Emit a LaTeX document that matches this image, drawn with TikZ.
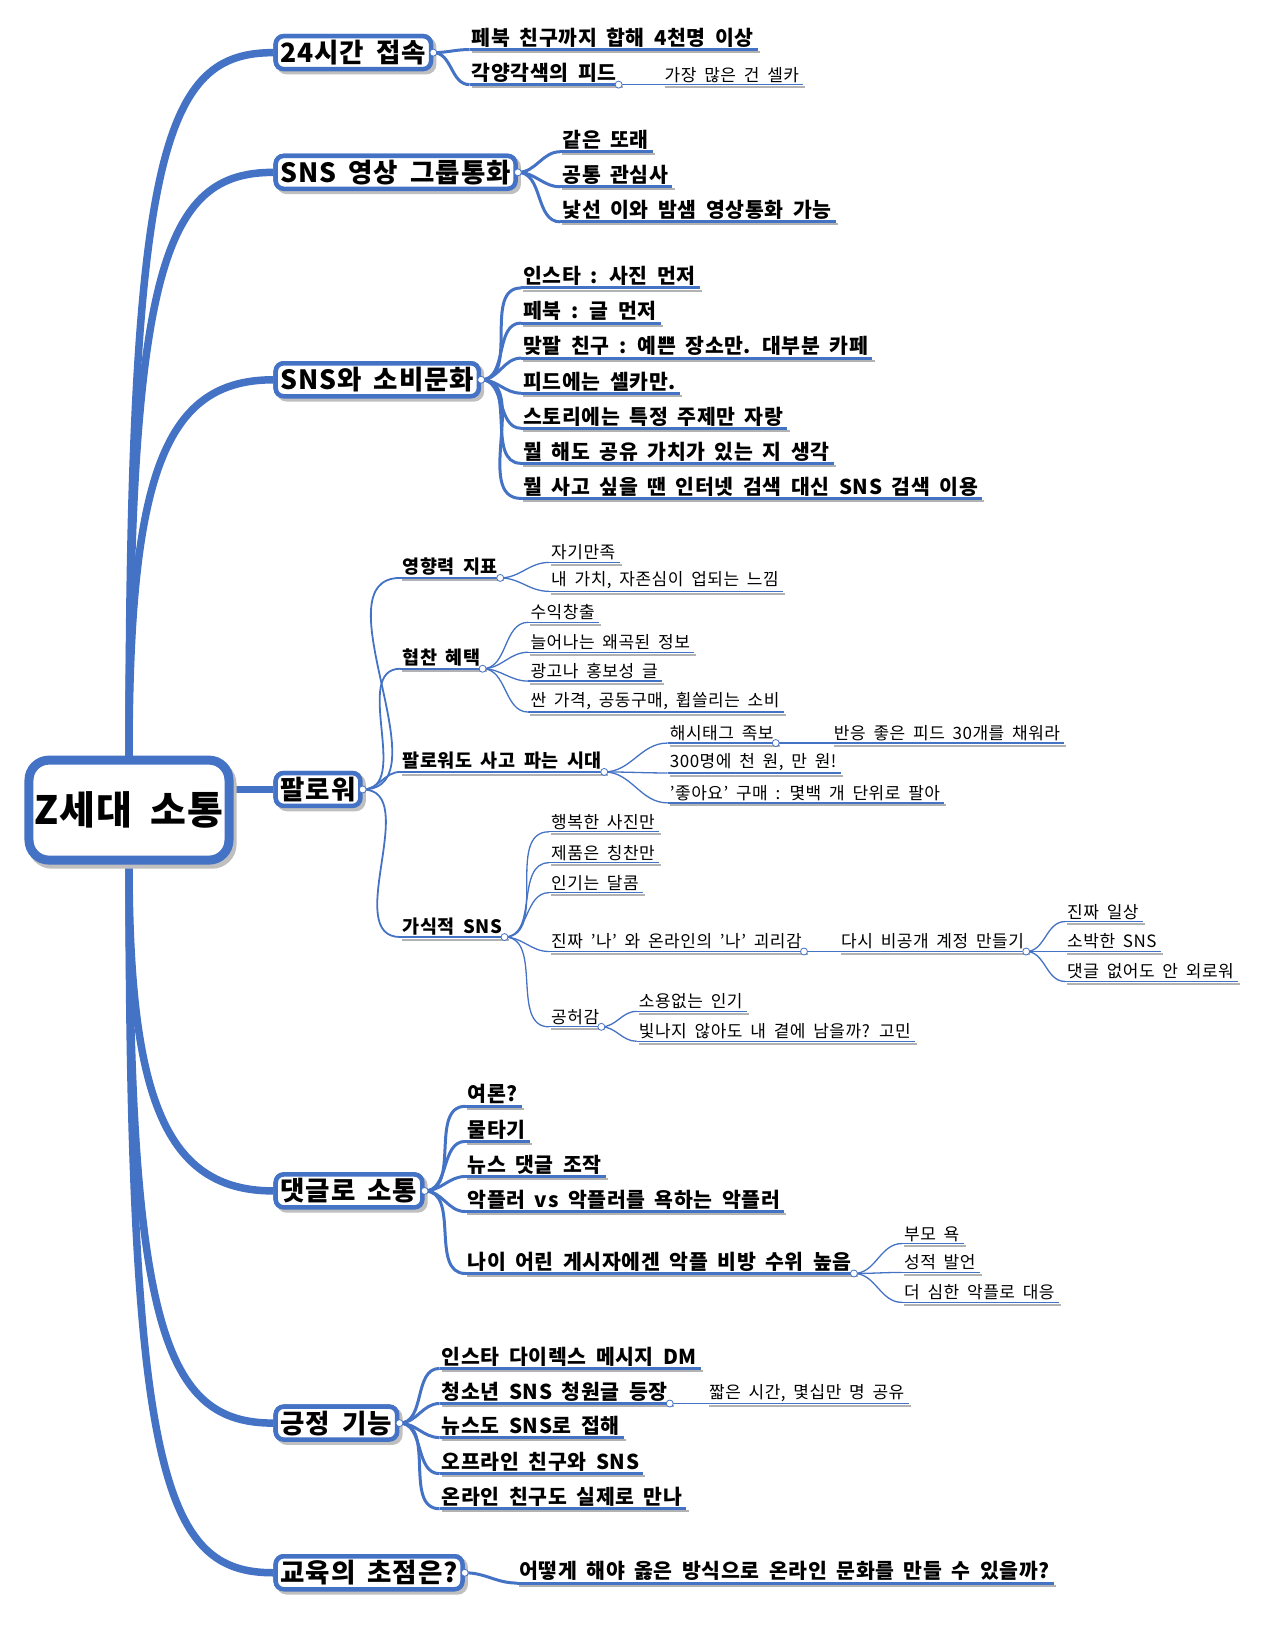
\documentclass[tikz,border=0pt]{standalone}
\usepackage{fontspec}
\setmainfont{Noto Sans CJK KR}[LetterSpace=3,WordSpace=1.8]
\definecolor{mb}{RGB}{68,114,196}
\tikzset{
 bx/.style={draw=mb,line width=4.5pt,rounded corners=8pt,fill=white,font=\bfseries\fontsize{26.5}{30}\selectfont,inner xsep=5pt,inner ysep=4pt,anchor=west},
 trunk/.style={draw=mb,line width=7.5pt},
 A/.style={font=\bfseries\fontsize{20.5}{23}\selectfont,inner xsep=2pt,inner ysep=2pt},
 Ac/.style={draw=mb,line width=3pt},
 B/.style={font=\bfseries\fontsize{18.5}{21}\selectfont,inner xsep=2pt,inner ysep=2pt},
 Bc/.style={draw=mb,line width=1.8pt},
 C/.style={font=\fontsize{17}{19}\selectfont,inner xsep=2pt,inner ysep=2pt},
 Cc/.style={draw=mb,line width=1.3pt},
 sh/.style={draw=black!30,line width=2pt},
 dotn/.style={circle,draw=mb,fill=white,line width=0.8pt,inner sep=0pt,minimum size=7pt},
}
\newcommand\lf[6]{%
 \node[#4,anchor=south west] (#1) at (#2,#3) {#5};
 \draw[#4c] (#6) to[out=0,in=180] (#1.south west);
 \draw[sh] ([shift={(2,2.5)}]#1.south west) -- ([shift={(4,2.5)}]#1.south east);
 \draw[#4c] (#1.south west) -- ([xshift=2pt]#1.south east);}
\newcommand\dt[1]{\node[dotn] at (#1) {};}
\begin{document}
\begin{tikzpicture}[x=1.032pt,y=-1.032pt]
\useasboundingbox (0,0) rectangle (1240,1575.6);
\node[bx] (b1) at (265,51) {24시간 접속};
\node[bx] (b2) at (265,167) {SNS 영상 그룹통화};
\node[bx] (b3) at (265,368) {SNS와 소비문화};
\node[bx] (b4) at (265,765) {팔로워};
\node[bx] (b5) at (265,1154) {댓글로 소통};
\node[bx] (b6) at (265,1379) {긍정 기능};
\node[bx] (b7) at (265,1524) {교육의 초점은?};
\foreach \b/\y in {b1/51,b2/167,b3/368}{
 \draw[trunk] (125,735) .. controls (125,\y+90) and (160,\y) .. (\b.west);}
\foreach \b/\y in {b5/1154,b6/1379,b7/1524}{
 \draw[trunk] (125,835) .. controls (125,\y-90) and (160,\y) .. (\b.west);}
\draw[trunk] (200,765) -- (b4.west);
\foreach \t/\y in {24시간 접속/51,SNS 영상 그룹통화/167,SNS와 소비문화/368,팔로워/765,댓글로 소통/1154,긍정 기능/1379,교육의 초점은?/1524}{
 \node[bx,draw=black!25,fill=black!25] at (268,\y+3) {\t};
 \node[bx] at (265,\y) {\t};}
\node[draw=black!25,fill=black!25,line width=9pt,rounded corners=20pt,minimum width=200pt,minimum height=100pt] at (128,789) {};
\node[draw=mb,fill=white,line width=9pt,rounded corners=20pt,minimum width=200pt,minimum height=100pt,font=\bfseries\fontsize{39}{44}\selectfont] (root) at (125,785) {Z세대 소통};
% branch 1
\lf{a1}{455}{48}{A}{페북 친구까지 합해 4천명 이상}{b1.east}
\lf{a2}{455}{82}{A}{각양각색의 피드}{b1.east}
\lf{a3}{642}{82}{C}{가장 많은 건 셀카}{a2.south east}
% branch 2
\lf{c1}{543}{147}{A}{같은 또래}{b2.east}
\lf{c2}{543}{181}{A}{공통 관심사}{b2.east}
\lf{c3}{543}{215}{A}{낯선 이와 밤샘 영상통화 가능}{b2.east}
% branch 3
\lf{d1}{505}{279}{A}{인스타 : 사진 먼저}{b3.east}
\lf{d2}{505}{313}{A}{페북 : 글 먼저}{b3.east}
\lf{d3}{505}{347}{A}{맞팔 친구 : 예쁜 장소만. 대부분 카페}{b3.east}
\lf{d4}{505}{381}{A}{피드에는 셀카만.}{b3.east}
\lf{d5}{505}{415}{A}{스토리에는 특정 주제만 자랑}{b3.east}
\lf{d6}{505}{449}{A}{뭘 해도 공유 가치가 있는 지 생각}{b3.east}
\lf{d7}{505}{483}{A}{뭘 사고 싶을 땐 인터넷 검색 대신 SNS 검색 이용}{b3.east}
% branch 4
\lf{e1}{388}{560}{B}{영향력 지표}{b4.east}
\lf{e11}{532}{545}{C}{자기만족}{e1.south east}
\lf{e12}{532}{573}{C}{내 가치, 자존심이 업되는 느낌}{e1.south east}
\lf{e2}{388}{648}{B}{협찬 혜택}{b4.east}
\lf{e21}{512}{603}{C}{수익창출}{e2.south east}
\lf{e22}{512}{632}{C}{늘어나는 왜곡된 정보}{e2.south east}
\lf{e23}{512}{660}{C}{광고나 홍보성 글}{e2.south east}
\lf{e24}{512}{690}{C}{싼 가격, 공동구매, 휩쓸리는 소비}{e2.south east}
\lf{e3}{388}{748}{B}{팔로워도 사고 파는 시대}{b4.east}
\lf{e31}{647}{720}{C}{해시태그 족보}{e3.south east}
\lf{e311}{806}{720}{C}{반응 좋은 피드 30개를 채워라}{e31.south east}
\lf{e32}{647}{749}{C}{300명에 천 원, 만 원!}{e3.south east}
\lf{e33}{647}{778}{C}{'좋아요' 구매 : 몇백 개 단위로 팔아}{e3.south east}
\lf{e4}{388}{908}{B}{가식적 SNS}{b4.east}
\lf{e41}{532}{806}{C}{행복한 사진만}{e4.south east}
\lf{e42}{532}{836}{C}{제품은 칭찬만}{e4.south east}
\lf{e43}{532}{865}{C}{인기는 달콤}{e4.south east}
\lf{e44}{532}{922}{C}{진짜 '나' 와 온라인의 '나' 괴리감}{e4.south east}
\lf{e441}{813}{922}{C}{다시 비공개 계정 만들기}{e44.south east}
\lf{e4411}{1032}{893}{C}{진짜 일상}{e441.south east}
\lf{e4412}{1032}{922}{C}{소박한 SNS}{e441.south east}
\lf{e4413}{1032}{951}{C}{댓글 없어도 안 외로워}{e441.south east}
\lf{e45}{532}{995}{C}{공허감}{e4.south east}
\lf{e451}{617}{980}{C}{소용없는 인기}{e45.south east}
\lf{e452}{617}{1009}{C}{빛나지 않아도 내 곁에 남을까? 고민}{e45.south east}
% branch 5
\lf{f1}{451}{1072}{A}{여론?}{b5.east}
\lf{f2}{451}{1106}{A}{물타기}{b5.east}
\lf{f3}{451}{1140}{A}{뉴스 댓글 조작}{b5.east}
\lf{f4}{451}{1174}{A}{악플러 vs 악플러를 욕하는 악플러}{b5.east}
\lf{f5}{451}{1234}{A}{나이 어린 게시자에겐 악플 비방 수위 높음}{b5.east}
\lf{f51}{874}{1205}{C}{부모 욕}{f5.south east}
\lf{f52}{874}{1233}{C}{성적 발언}{f5.south east}
\lf{f53}{874}{1262}{C}{더 심한 악플로 대응}{f5.south east}
% branch 6
\lf{g1}{426}{1326}{A}{인스타 다이렉스 메시지 DM}{b6.east}
\lf{g2}{426}{1360}{A}{청소년 SNS 청원글 등장}{b6.east}
\lf{g21}{685}{1360}{C}{짧은 시간, 몇십만 명 공유}{g2.south east}
\lf{g3}{426}{1393}{A}{뉴스도 SNS로 접해}{b6.east}
\lf{g4}{426}{1428}{A}{오프라인 친구와 SNS}{b6.east}
\lf{g5}{426}{1462}{A}{온라인 친구도 실제로 만나}{b6.east}
% branch 7
\lf{h1}{501}{1534}{A}{어떻게 해야 옳은 방식으로 온라인 문화를 만들 수 있을까?}{b7.east}
\foreach \p in {b1.east,b2.east,b3.east,b4.east,b5.east,b6.east,b7.east,a2.south east,e1.south east,e2.south east,e3.south east,e31.south east,e4.south east,e44.south east,e441.south east,e45.south east,f5.south east,g2.south east}{\dt{\p}}
\end{tikzpicture}
\end{document}
